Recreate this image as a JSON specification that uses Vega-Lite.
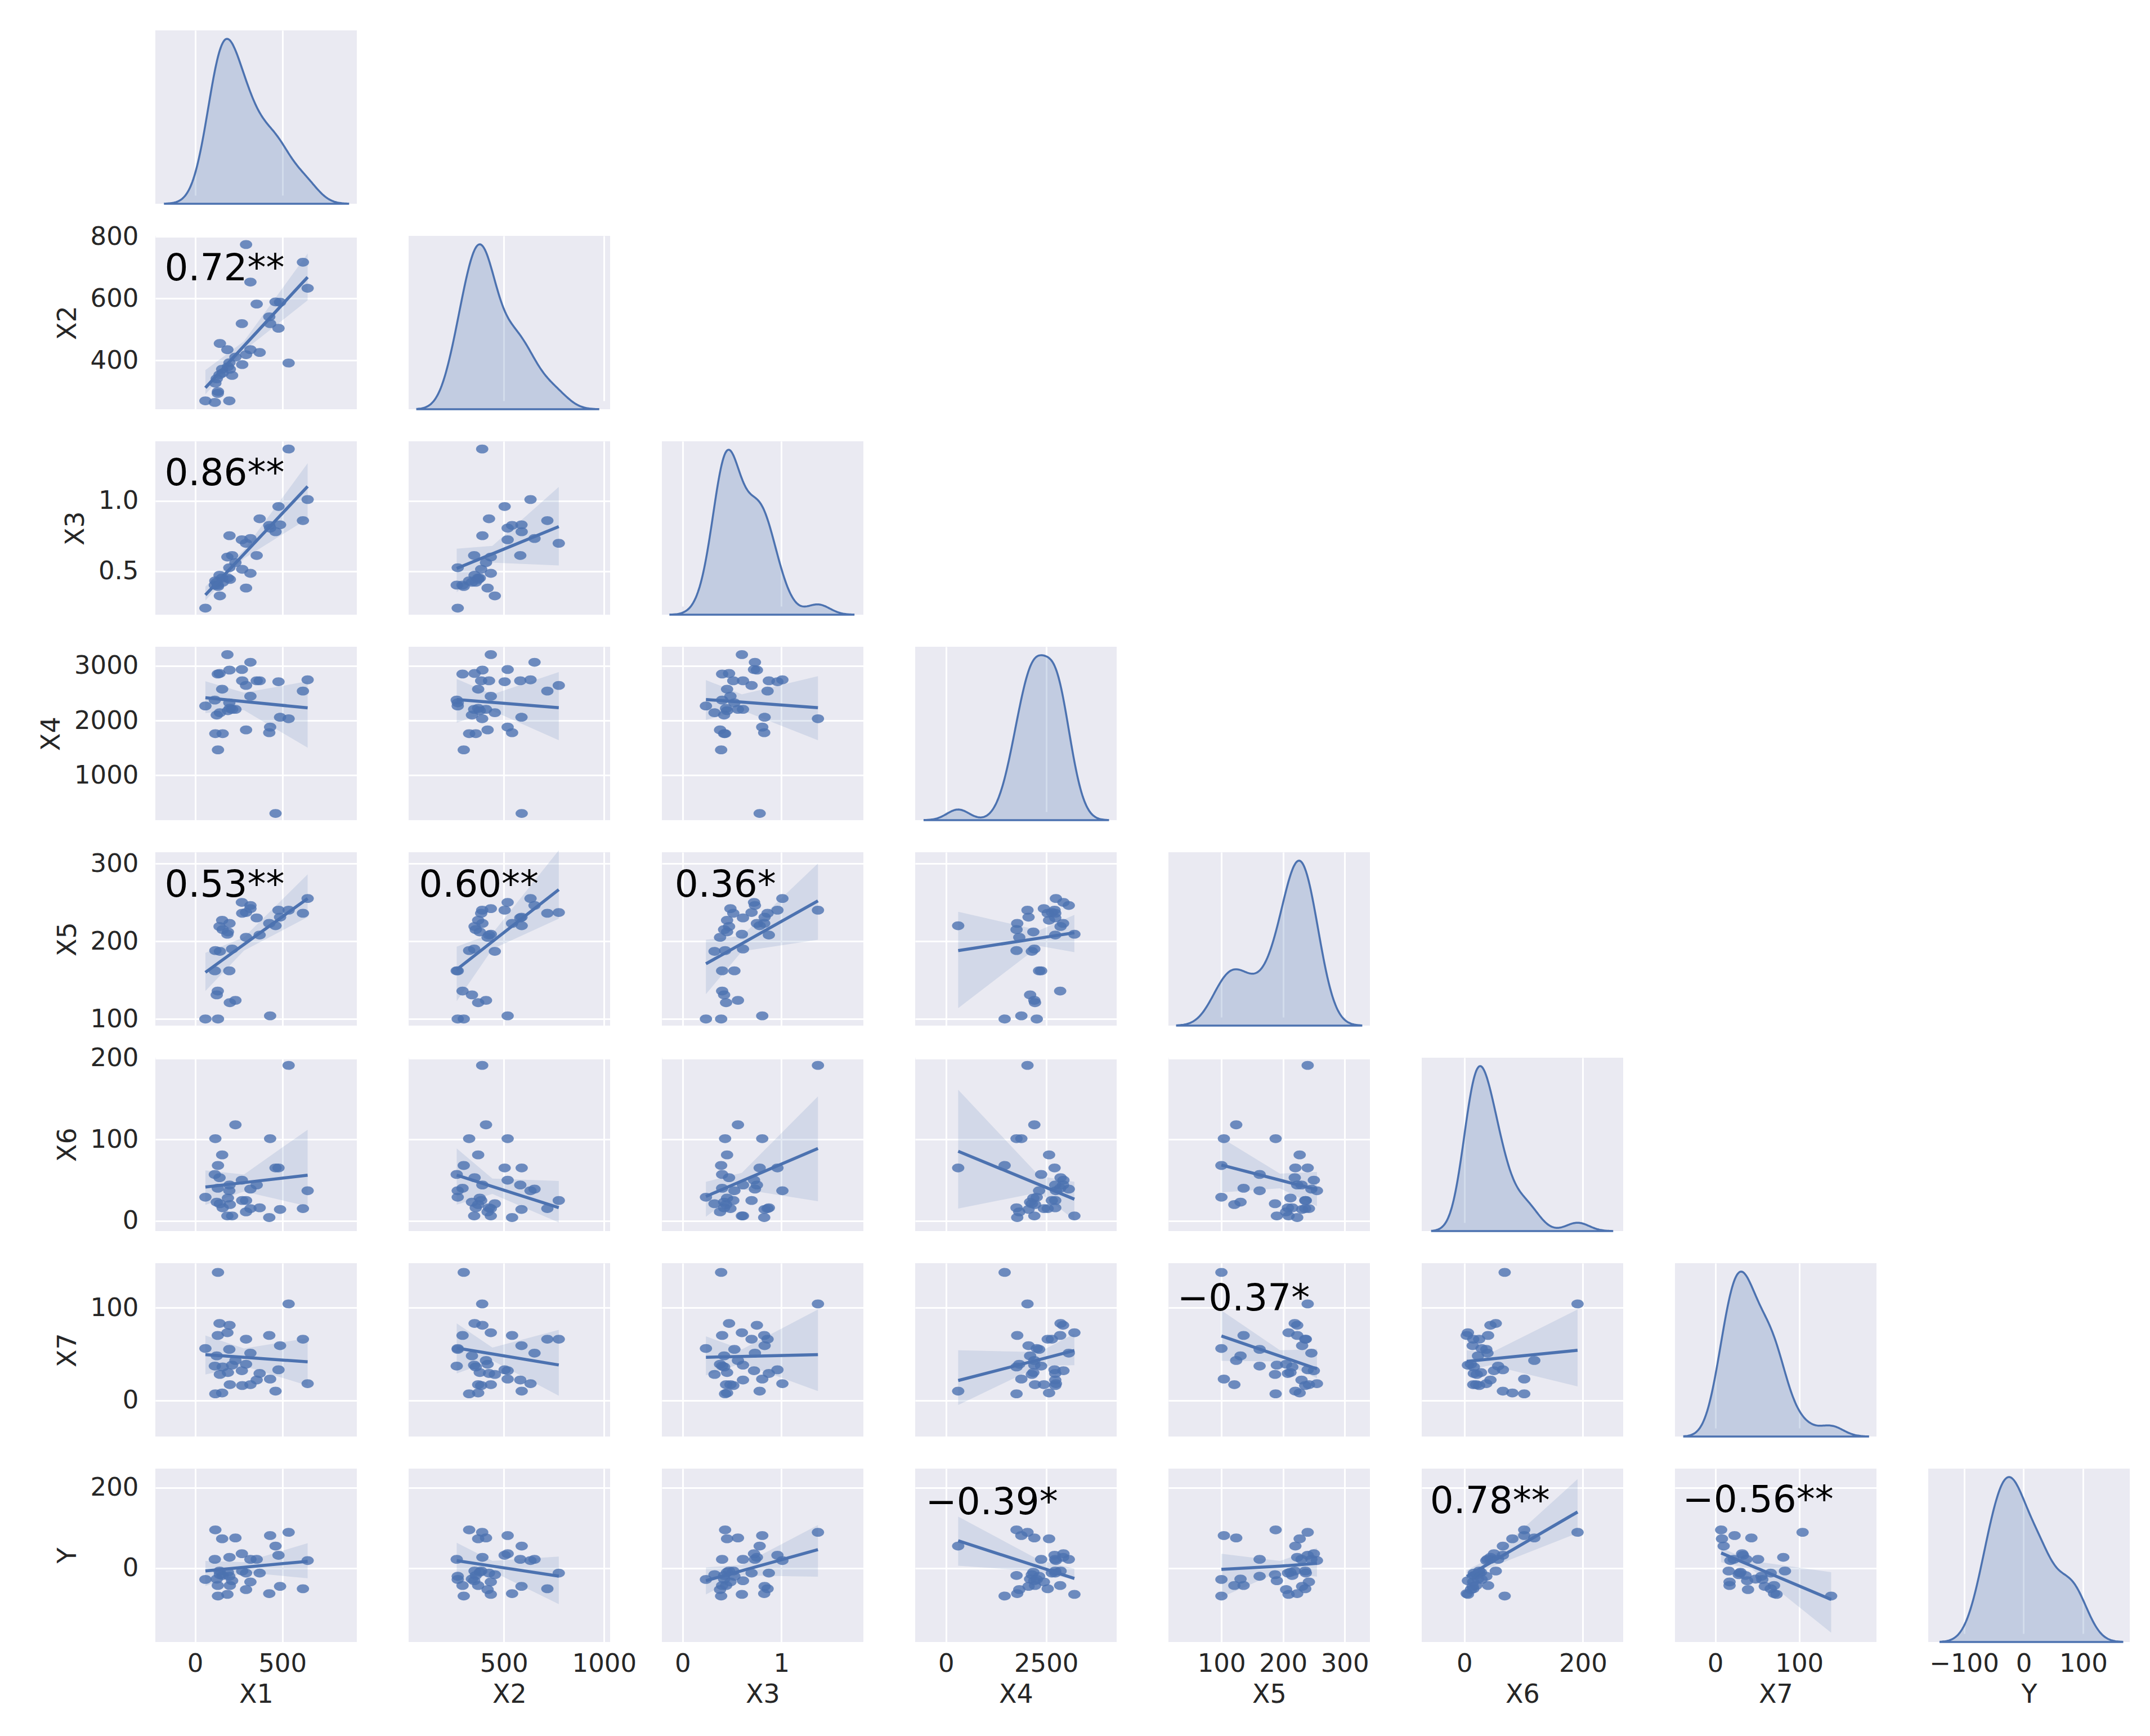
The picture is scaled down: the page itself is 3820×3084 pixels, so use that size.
{
"$schema":"https://vega.github.io/schema/vega-lite/v6.json",
"background":"white",
"padding":{"left":68,"top":54,"right":10,"bottom":10},
"spacing":{"row":57,"column":92},
"bounds":"flush",
"columns":8,
"config":{
 "view":{"fill":"#EAEAF2","stroke":null},
 "axis":{"domain":false,"ticks":false,"tickSize":0,"grid":true,"gridColor":"#FFFFFF","gridWidth":3,"labelFont":"DejaVu Sans","labelFontSize":45,"labelColor":"#262626","titleFont":"DejaVu Sans","titleFontSize":46,"titleFontWeight":"normal","titleColor":"#262626","labelFlush":false,"labelOverlap":false},
 "axisX":{"labelPadding":16,"titlePadding":10},
 "axisY":{"labelPadding":30,"titlePadding":16},
 "point":{"filled":true,"shape":"M-1,0A1,0.72,0,1,1,1,0A1,0.72,0,1,1,-1,0Z","size":480,"color":"#4C72B0","opacity":0.8,"strokeWidth":0},
 "line":{"color":"#4C72B0","strokeWidth":5.5,"clip":true},
 "area":{"color":"#4C72B0","opacity":0.15,"clip":true}
},
"datasets":{
 "obs":[
  {"X1":645,"X2":633,"X3":1.01,"X4":2744,"X5":255,"X6":37,"X7":18,"Y":19},
  {"X1":618,"X2":717,"X3":0.86,"X4":2539,"X5":236,"X6":15,"X7":66,"Y":-51},
  {"X1":536,"X2":392,"X3":1.37,"X4":2034,"X5":240,"X6":191,"X7":104,"Y":89},
  {"X1":487,"X2":588,"X3":0.83,"X4":2061,"X5":231,"X6":14,"X7":59,"Y":-45},
  {"X1":478,"X2":504,"X3":0.96,"X4":2710,"X5":240,"X6":65,"X7":33,"Y":32},
  {"X1":461,"X2":589,"X3":0.78,"X4":304,"X5":220,"X6":65,"X7":10,"Y":55},
  {"X1":425,"X2":541,"X3":0.826,"X4":1778,"X5":223,"X6":4,"X7":70,"Y":-63},
  {"X1":430,"X2":519,"X3":0.806,"X4":1881,"X5":104,"X6":101,"X7":23,"Y":81},
  {"X1":370,"X2":426,"X3":0.873,"X4":2727,"X5":208,"X6":16,"X7":29,"Y":-12},
  {"X1":353,"X2":582,"X3":0.611,"X4":2727,"X5":230,"X6":44,"X7":22,"Y":22},
  {"X1":317,"X2":653,"X3":0.732,"X4":3065,"X5":246,"X6":39,"X7":51,"Y":22},
  {"X1":317,"X2":435,"X3":0.484,"X4":2444,"X5":242,"X6":15,"X7":17,"Y":-34},
  {"X1":292,"X2":774,"X3":0.698,"X4":2642,"X5":237,"X6":25,"X7":66,"Y":-12},
  {"X1":292,"X2":419,"X3":0.379,"X4":1829,"X5":205,"X6":11,"X7":39,"Y":-53},
  {"X1":268,"X2":519,"X3":0.723,"X4":2932,"X5":250,"X6":50,"X7":32,"Y":36},
  {"X1":270,"X2":387,"X3":0.513,"X4":2727,"X5":236,"X6":25,"X7":16,"Y":-7},
  {"X1":231,"X2":411,"X3":0.56,"X4":2205,"X5":124,"X6":118,"X7":43,"Y":75},
  {"X1":212,"X2":352,"X3":0.611,"X4":2205,"X5":190,"X6":6,"X7":38,"Y":-31},
  {"X1":197,"X2":393,"X3":0.752,"X4":2922,"X5":223,"X6":44,"X7":81,"Y":27},
  {"X1":196,"X2":270,"X3":0.524,"X4":2324,"X5":162,"X6":37,"X7":55,"Y":-20},
  {"X1":199,"X2":372,"X3":0.44,"X4":2222,"X5":121,"X6":20,"X7":17,"Y":-43},
  {"X1":185,"X2":435,"X3":0.6,"X4":3205,"X5":209,"X6":6,"X7":73,"Y":-65},
  {"X1":188,"X2":380,"X3":0.45,"X4":2180,"X5":212,"X6":28,"X7":30,"Y":-10},
  {"X1":155,"X2":372,"X3":0.45,"X4":2573,"X5":227,"X6":81,"X7":8,"Y":73},
  {"X1":158,"X2":360,"X3":0.42,"X4":1761,"X5":215,"X6":16,"X7":36,"Y":-18},
  {"X1":142,"X2":455,"X3":0.323,"X4":2143,"X5":187,"X6":21,"X7":28,"Y":-16},
  {"X1":140,"X2":354,"X3":0.47,"X4":2860,"X5":219,"X6":53,"X7":83,"Y":-7},
  {"X1":131,"X2":300,"X3":0.39,"X4":1464,"X5":100,"X6":68,"X7":138,"Y":-69},
  {"X1":130,"X2":294,"X3":0.4,"X4":2850,"X5":136,"X6":40,"X7":70,"Y":-43},
  {"X1":116,"X2":327,"X3":0.43,"X4":1761,"X5":188,"X6":101,"X7":7,"Y":95},
  {"X1":113,"X2":265,"X3":0.4,"X4":2375,"X5":162,"X6":57,"X7":37,"Y":22},
  {"X1":124,"X2":341,"X3":0.42,"X4":2100,"X5":131,"X6":23,"X7":48,"Y":-27},
  {"X1":59,"X2":270,"X3":0.236,"X4":2266,"X5":100,"X6":29,"X7":56,"Y":-28}
 ],
 "fit":[
  {"p":"X1_X2","x":59,"lo":291,"m":312,"hi":369},{"p":"X1_X2","x":280,"lo":432,"m":447,"hi":462},{"p":"X1_X2","x":645,"lo":594,"m":669,"hi":745},
  {"p":"X1_X3","x":59,"lo":0.29,"m":0.33,"hi":0.39},{"p":"X1_X3","x":280,"lo":0.59,"m":0.621,"hi":0.65},{"p":"X1_X3","x":645,"lo":0.873,"m":1.103,"hi":1.268},
  {"p":"X1_X4","x":59,"lo":2136,"m":2418,"hi":2717},{"p":"X1_X4","x":280,"lo":2190,"m":2348,"hi":2510},{"p":"X1_X4","x":645,"lo":1505,"m":2232,"hi":2717},
  {"p":"X1_X5","x":59,"lo":136,"m":160,"hi":185},{"p":"X1_X5","x":280,"lo":188,"m":196,"hi":205},{"p":"X1_X5","x":645,"lo":231,"m":255,"hi":286},
  {"p":"X1_X6","x":59,"lo":19.5,"m":41.5,"hi":62},{"p":"X1_X6","x":280,"lo":36,"m":47,"hi":57},{"p":"X1_X6","x":645,"lo":18,"m":56,"hi":112},
  {"p":"X1_X7","x":59,"lo":28,"m":49.3,"hi":70},{"p":"X1_X7","x":280,"lo":37,"m":46.4,"hi":56},{"p":"X1_X7","x":645,"lo":16,"m":41.6,"hi":67},
  {"p":"X1_Y","x":59,"lo":-44,"m":-6.7,"hi":18},{"p":"X1_Y","x":280,"lo":-10,"m":2.3,"hi":15},{"p":"X1_Y","x":645,"lo":-25,"m":17.1,"hi":62},
  {"p":"X2_X3","x":265,"lo":0.35,"m":0.519,"hi":0.66},{"p":"X2_X3","x":443,"lo":0.56,"m":0.623,"hi":0.68},{"p":"X2_X3","x":774,"lo":0.54,"m":0.817,"hi":1.1},
  {"p":"X2_X4","x":265,"lo":1963,"m":2385,"hi":2760},{"p":"X2_X4","x":443,"lo":2180,"m":2333,"hi":2480},{"p":"X2_X4","x":774,"lo":1640,"m":2235,"hi":2885},
  {"p":"X2_X5","x":265,"lo":123,"m":163.6,"hi":193},{"p":"X2_X5","x":443,"lo":190,"m":199.6,"hi":210},{"p":"X2_X5","x":774,"lo":229,"m":266.4,"hi":317},
  {"p":"X2_X6","x":265,"lo":20,"m":56.2,"hi":89},{"p":"X2_X6","x":443,"lo":33,"m":42.2,"hi":52},{"p":"X2_X6","x":774,"lo":-2,"m":16.2,"hi":49},
  {"p":"X2_X7","x":265,"lo":29,"m":56.5,"hi":83},{"p":"X2_X7","x":443,"lo":43,"m":50.1,"hi":57},{"p":"X2_X7","x":774,"lo":5,"m":38.2,"hi":76},
  {"p":"X2_Y","x":265,"lo":-38,"m":18.7,"hi":63},{"p":"X2_Y","x":443,"lo":-8,"m":5.3,"hi":18},{"p":"X2_Y","x":774,"lo":-89,"m":-19.6,"hi":29},
  {"p":"X3_X4","x":0.236,"lo":2010,"m":2385,"hi":2740},{"p":"X3_X4","x":0.6,"lo":2190,"m":2337,"hi":2480},{"p":"X3_X4","x":1.37,"lo":1640,"m":2235,"hi":2810},
  {"p":"X3_X5","x":0.236,"lo":132,"m":171,"hi":202},{"p":"X3_X5","x":0.6,"lo":187,"m":197,"hi":207},{"p":"X3_X5","x":1.37,"lo":202,"m":252,"hi":300},
  {"p":"X3_X6","x":0.236,"lo":5,"m":30,"hi":48},{"p":"X3_X6","x":0.6,"lo":39,"m":49,"hi":59},{"p":"X3_X6","x":1.37,"lo":24,"m":89,"hi":153},
  {"p":"X3_X7","x":0.236,"lo":27,"m":46.5,"hi":69},{"p":"X3_X7","x":0.6,"lo":40,"m":47.4,"hi":55},{"p":"X3_X7","x":1.37,"lo":10,"m":49.4,"hi":98},
  {"p":"X3_Y","x":0.236,"lo":-65,"m":-31,"hi":2},{"p":"X3_Y","x":0.6,"lo":-18,"m":-6.2,"hi":8},{"p":"X3_Y","x":1.37,"lo":-21,"m":46,"hi":107},
  {"p":"X4_X5","x":304,"lo":114,"m":188,"hi":238},{"p":"X4_X5","x":2330,"lo":194,"m":204,"hi":214},{"p":"X4_X5","x":3205,"lo":186,"m":211,"hi":234},
  {"p":"X4_X6","x":304,"lo":15,"m":85.5,"hi":161},{"p":"X4_X6","x":2330,"lo":35,"m":44.4,"hi":55},{"p":"X4_X6","x":3205,"lo":1,"m":26.6,"hi":48},
  {"p":"X4_X7","x":304,"lo":-5,"m":21.4,"hi":54},{"p":"X4_X7","x":2330,"lo":37,"m":44,"hi":52},{"p":"X4_X7","x":3205,"lo":38,"m":53.8,"hi":72},
  {"p":"X4_Y","x":304,"lo":6,"m":68,"hi":128},{"p":"X4_Y","x":2330,"lo":-8,"m":2.7,"hi":20},{"p":"X4_Y","x":3205,"lo":-29,"m":-25.5,"hi":-1},
  {"p":"X5_X6","x":100,"lo":35,"m":68.6,"hi":102},{"p":"X5_X6","x":195,"lo":40,"m":50,"hi":58},{"p":"X5_X6","x":255,"lo":18,"m":38.3,"hi":60},
  {"p":"X5_X7","x":100,"lo":42.6,"m":69.4,"hi":97},{"p":"X5_X7","x":195,"lo":42,"m":47.7,"hi":54},{"p":"X5_X7","x":255,"lo":24,"m":34,"hi":55.5},
  {"p":"X5_Y","x":100,"lo":-72,"m":-3,"hi":36},{"p":"X5_Y","x":195,"lo":-8,"m":5,"hi":18},{"p":"X5_Y","x":255,"lo":-21,"m":12,"hi":50},
  {"p":"X6_X7","x":4,"lo":32,"m":42,"hi":54},{"p":"X6_X7","x":44,"lo":38,"m":44.6,"hi":51},{"p":"X6_X7","x":191,"lo":15,"m":54,"hi":98},
  {"p":"X6_Y","x":4,"lo":-40,"m":-20.6,"hi":-5},{"p":"X6_Y","x":44,"lo":2,"m":13.7,"hi":25},{"p":"X6_Y","x":191,"lo":87,"m":139.5,"hi":221},
  {"p":"X7_Y","x":7,"lo":15,"m":37.8,"hi":50},{"p":"X7_Y","x":44,"lo":-3,"m":5.2,"hi":18},{"p":"X7_Y","x":138,"lo":-160,"m":-77.5,"hi":-10}
 ]
},
"concat":[
 {"width":358,"height":308,"data":{"name":"obs"},"transform":[{"density":"X1","bandwidth":77.4,"extent":[-173,877],"steps":200,"as":["v","d"]}],"mark":{"type":"area","color":"#4C72B0","opacity":1,"fillOpacity":0.25,"stroke":"#4C72B0","strokeWidth":3.5,"clip":false},"encoding":{"x":{"field":"v","type":"quantitative","scale":{"domain":[-228,927],"nice":false,"zero":false},"axis":{"title":null,"labels":false,"values":[0,500],"minExtent":0,"maxExtent":0}},"y":{"field":"d","type":"quantitative","scale":{"zero":true,"nice":false,"range":[308,15]},"axis":null}}},
 {"width":358,"height":308,"data":{"values":[]},"mark":"point","view":{"fill":null,"stroke":null}},
 {"width":358,"height":308,"data":{"values":[]},"mark":"point","view":{"fill":null,"stroke":null}},
 {"width":358,"height":308,"data":{"values":[]},"mark":"point","view":{"fill":null,"stroke":null}},
 {"width":358,"height":308,"data":{"values":[]},"mark":"point","view":{"fill":null,"stroke":null}},
 {"width":358,"height":308,"data":{"values":[]},"mark":"point","view":{"fill":null,"stroke":null}},
 {"width":358,"height":308,"data":{"values":[]},"mark":"point","view":{"fill":null,"stroke":null}},
 {"width":358,"height":308,"data":{"values":[]},"mark":"point","view":{"fill":null,"stroke":null}},

 {"width":358,"height":308,"layer":[
  {"data":{"name":"obs"},"mark":"point","encoding":{"x":{"field":"X1","type":"quantitative","scale":{"domain":[-228,927],"nice":false,"zero":false},"axis":{"title":null,"labels":false,"values":[0,500],"minExtent":0,"maxExtent":0}},"y":{"field":"X2","type":"quantitative","scale":{"domain":[243,802],"nice":false,"zero":false},"axis":{"title":"X2","values":[400,600,800],"format":"d"}}}},
  {"data":{"name":"fit"},"transform":[{"filter":"datum.p==='X1_X2'"}],"mark":"area","encoding":{"x":{"field":"x","type":"quantitative"},"y":{"field":"lo","type":"quantitative"},"y2":{"field":"hi"}}},
  {"data":{"name":"fit"},"transform":[{"filter":"datum.p==='X1_X2'"}],"mark":"line","encoding":{"x":{"field":"x","type":"quantitative"},"y":{"field":"m","type":"quantitative"}}},
  {"data":{"values":[{"t":"0.72**"}]},"mark":{"type":"text","align":"left","baseline":"alphabetic","font":"DejaVu Sans","fontSize":66,"color":"#000000"},"encoding":{"x":{"datum":-175},"y":{"datum":658},"text":{"field":"t"}}}
 ]},
 {"width":358,"height":308,"data":{"name":"obs"},"transform":[{"density":"X2","bandwidth":65.6,"extent":[68,971],"steps":200,"as":["v","d"]}],"mark":{"type":"area","color":"#4C72B0","opacity":1,"fillOpacity":0.25,"stroke":"#4C72B0","strokeWidth":3.5,"clip":false},"encoding":{"x":{"field":"v","type":"quantitative","scale":{"domain":[25,1030],"nice":false,"zero":false},"axis":{"title":null,"labels":false,"values":[500,1000],"minExtent":0,"maxExtent":0}},"y":{"field":"d","type":"quantitative","scale":{"zero":true,"nice":false,"range":[308,15]},"axis":null}}},
 {"width":358,"height":308,"data":{"values":[]},"mark":"point","view":{"fill":null,"stroke":null}},
 {"width":358,"height":308,"data":{"values":[]},"mark":"point","view":{"fill":null,"stroke":null}},
 {"width":358,"height":308,"data":{"values":[]},"mark":"point","view":{"fill":null,"stroke":null}},
 {"width":358,"height":308,"data":{"values":[]},"mark":"point","view":{"fill":null,"stroke":null}},
 {"width":358,"height":308,"data":{"values":[]},"mark":"point","view":{"fill":null,"stroke":null}},
 {"width":358,"height":308,"data":{"values":[]},"mark":"point","view":{"fill":null,"stroke":null}},

 {"width":358,"height":308,"layer":[
  {"data":{"name":"obs"},"mark":"point","encoding":{"x":{"field":"X1","type":"quantitative","scale":{"domain":[-228,927],"nice":false,"zero":false},"axis":{"title":null,"labels":false,"values":[0,500],"minExtent":0,"maxExtent":0}},"y":{"field":"X3","type":"quantitative","scale":{"domain":[0.189,1.425],"nice":false,"zero":false},"axis":{"title":"X3","values":[0.5,1.0],"format":".1f"}}}},
  {"data":{"name":"fit"},"transform":[{"filter":"datum.p==='X1_X3'"}],"mark":"area","encoding":{"x":{"field":"x","type":"quantitative"},"y":{"field":"lo","type":"quantitative"},"y2":{"field":"hi"}}},
  {"data":{"name":"fit"},"transform":[{"filter":"datum.p==='X1_X3'"}],"mark":"line","encoding":{"x":{"field":"x","type":"quantitative"},"y":{"field":"m","type":"quantitative"}}},
  {"data":{"values":[{"t":"0.86**"}]},"mark":{"type":"text","align":"left","baseline":"alphabetic","font":"DejaVu Sans","fontSize":66,"color":"#000000"},"encoding":{"x":{"datum":-175},"y":{"datum":1.11},"text":{"field":"t"}}}
 ]},
 {"width":358,"height":308,"layer":[
  {"data":{"name":"obs"},"mark":"point","encoding":{"x":{"field":"X2","type":"quantitative","scale":{"domain":[25,1030],"nice":false,"zero":false},"axis":{"title":null,"labels":false,"values":[500,1000],"minExtent":0,"maxExtent":0}},"y":{"field":"X3","type":"quantitative","scale":{"domain":[0.189,1.425],"nice":false,"zero":false},"axis":{"title":null,"labels":false,"values":[0.5,1.0],"minExtent":0,"maxExtent":0}}}},
  {"data":{"name":"fit"},"transform":[{"filter":"datum.p==='X2_X3'"}],"mark":"area","encoding":{"x":{"field":"x","type":"quantitative"},"y":{"field":"lo","type":"quantitative"},"y2":{"field":"hi"}}},
  {"data":{"name":"fit"},"transform":[{"filter":"datum.p==='X2_X3'"}],"mark":"line","encoding":{"x":{"field":"x","type":"quantitative"},"y":{"field":"m","type":"quantitative"}}}
 ]},
 {"width":358,"height":308,"data":{"name":"obs"},"transform":[{"density":"X3","bandwidth":0.12,"extent":[-0.124,1.73],"steps":200,"as":["v","d"]}],"mark":{"type":"area","color":"#4C72B0","opacity":1,"fillOpacity":0.25,"stroke":"#4C72B0","strokeWidth":3.5,"clip":false},"encoding":{"x":{"field":"v","type":"quantitative","scale":{"domain":[-0.21,1.83],"nice":false,"zero":false},"axis":{"title":null,"labels":false,"values":[0,1],"minExtent":0,"maxExtent":0}},"y":{"field":"d","type":"quantitative","scale":{"zero":true,"nice":false,"range":[308,15]},"axis":null}}},
 {"width":358,"height":308,"data":{"values":[]},"mark":"point","view":{"fill":null,"stroke":null}},
 {"width":358,"height":308,"data":{"values":[]},"mark":"point","view":{"fill":null,"stroke":null}},
 {"width":358,"height":308,"data":{"values":[]},"mark":"point","view":{"fill":null,"stroke":null}},
 {"width":358,"height":308,"data":{"values":[]},"mark":"point","view":{"fill":null,"stroke":null}},
 {"width":358,"height":308,"data":{"values":[]},"mark":"point","view":{"fill":null,"stroke":null}},

 {"width":358,"height":308,"layer":[
  {"data":{"name":"obs"},"mark":"point","encoding":{"x":{"field":"X1","type":"quantitative","scale":{"domain":[-228,927],"nice":false,"zero":false},"axis":{"title":null,"labels":false,"values":[0,500],"minExtent":0,"maxExtent":0}},"y":{"field":"X4","type":"quantitative","scale":{"domain":[181,3348],"nice":false,"zero":false},"axis":{"title":"X4","values":[1000,2000,3000],"format":"d"}}}},
  {"data":{"name":"fit"},"transform":[{"filter":"datum.p==='X1_X4'"}],"mark":"area","encoding":{"x":{"field":"x","type":"quantitative"},"y":{"field":"lo","type":"quantitative"},"y2":{"field":"hi"}}},
  {"data":{"name":"fit"},"transform":[{"filter":"datum.p==='X1_X4'"}],"mark":"line","encoding":{"x":{"field":"x","type":"quantitative"},"y":{"field":"m","type":"quantitative"}}}
 ]},
 {"width":358,"height":308,"layer":[
  {"data":{"name":"obs"},"mark":"point","encoding":{"x":{"field":"X2","type":"quantitative","scale":{"domain":[25,1030],"nice":false,"zero":false},"axis":{"title":null,"labels":false,"values":[500,1000],"minExtent":0,"maxExtent":0}},"y":{"field":"X4","type":"quantitative","scale":{"domain":[181,3348],"nice":false,"zero":false},"axis":{"title":null,"labels":false,"values":[1000,2000,3000],"minExtent":0,"maxExtent":0}}}},
  {"data":{"name":"fit"},"transform":[{"filter":"datum.p==='X2_X4'"}],"mark":"area","encoding":{"x":{"field":"x","type":"quantitative"},"y":{"field":"lo","type":"quantitative"},"y2":{"field":"hi"}}},
  {"data":{"name":"fit"},"transform":[{"filter":"datum.p==='X2_X4'"}],"mark":"line","encoding":{"x":{"field":"x","type":"quantitative"},"y":{"field":"m","type":"quantitative"}}}
 ]},
 {"width":358,"height":308,"layer":[
  {"data":{"name":"obs"},"mark":"point","encoding":{"x":{"field":"X3","type":"quantitative","scale":{"domain":[-0.21,1.83],"nice":false,"zero":false},"axis":{"title":null,"labels":false,"values":[0,1],"minExtent":0,"maxExtent":0}},"y":{"field":"X4","type":"quantitative","scale":{"domain":[181,3348],"nice":false,"zero":false},"axis":{"title":null,"labels":false,"values":[1000,2000,3000],"minExtent":0,"maxExtent":0}}}},
  {"data":{"name":"fit"},"transform":[{"filter":"datum.p==='X3_X4'"}],"mark":"area","encoding":{"x":{"field":"x","type":"quantitative"},"y":{"field":"lo","type":"quantitative"},"y2":{"field":"hi"}}},
  {"data":{"name":"fit"},"transform":[{"filter":"datum.p==='X3_X4'"}],"mark":"line","encoding":{"x":{"field":"x","type":"quantitative"},"y":{"field":"m","type":"quantitative"}}}
 ]},
 {"width":358,"height":308,"data":{"name":"obs"},"transform":[{"density":"X4","bandwidth":280,"extent":[-536,4045],"steps":200,"as":["v","d"]}],"mark":{"type":"area","color":"#4C72B0","opacity":1,"fillOpacity":0.25,"stroke":"#4C72B0","strokeWidth":3.5,"clip":false},"encoding":{"x":{"field":"v","type":"quantitative","scale":{"domain":[-770,4260],"nice":false,"zero":false},"axis":{"title":null,"labels":false,"values":[0,2500],"minExtent":0,"maxExtent":0}},"y":{"field":"d","type":"quantitative","scale":{"zero":true,"nice":false,"range":[308,15]},"axis":null}}},
 {"width":358,"height":308,"data":{"values":[]},"mark":"point","view":{"fill":null,"stroke":null}},
 {"width":358,"height":308,"data":{"values":[]},"mark":"point","view":{"fill":null,"stroke":null}},
 {"width":358,"height":308,"data":{"values":[]},"mark":"point","view":{"fill":null,"stroke":null}},
 {"width":358,"height":308,"data":{"values":[]},"mark":"point","view":{"fill":null,"stroke":null}},

 {"width":358,"height":308,"layer":[
  {"data":{"name":"obs"},"mark":"point","encoding":{"x":{"field":"X1","type":"quantitative","scale":{"domain":[-228,927],"nice":false,"zero":false},"axis":{"title":null,"labels":false,"values":[0,500],"minExtent":0,"maxExtent":0}},"y":{"field":"X5","type":"quantitative","scale":{"domain":[91.5,314.5],"nice":false,"zero":false},"axis":{"title":"X5","values":[100,200,300],"format":"d"}}}},
  {"data":{"name":"fit"},"transform":[{"filter":"datum.p==='X1_X5'"}],"mark":"area","encoding":{"x":{"field":"x","type":"quantitative"},"y":{"field":"lo","type":"quantitative"},"y2":{"field":"hi"}}},
  {"data":{"name":"fit"},"transform":[{"filter":"datum.p==='X1_X5'"}],"mark":"line","encoding":{"x":{"field":"x","type":"quantitative"},"y":{"field":"m","type":"quantitative"}}},
  {"data":{"values":[{"t":"0.53**"}]},"mark":{"type":"text","align":"left","baseline":"alphabetic","font":"DejaVu Sans","fontSize":66,"color":"#000000"},"encoding":{"x":{"datum":-175},"y":{"datum":257},"text":{"field":"t"}}}
 ]},
 {"width":358,"height":308,"layer":[
  {"data":{"name":"obs"},"mark":"point","encoding":{"x":{"field":"X2","type":"quantitative","scale":{"domain":[25,1030],"nice":false,"zero":false},"axis":{"title":null,"labels":false,"values":[500,1000],"minExtent":0,"maxExtent":0}},"y":{"field":"X5","type":"quantitative","scale":{"domain":[91.5,314.5],"nice":false,"zero":false},"axis":{"title":null,"labels":false,"values":[100,200,300],"minExtent":0,"maxExtent":0}}}},
  {"data":{"name":"fit"},"transform":[{"filter":"datum.p==='X2_X5'"}],"mark":"area","encoding":{"x":{"field":"x","type":"quantitative"},"y":{"field":"lo","type":"quantitative"},"y2":{"field":"hi"}}},
  {"data":{"name":"fit"},"transform":[{"filter":"datum.p==='X2_X5'"}],"mark":"line","encoding":{"x":{"field":"x","type":"quantitative"},"y":{"field":"m","type":"quantitative"}}},
  {"data":{"values":[{"t":"0.60**"}]},"mark":{"type":"text","align":"left","baseline":"alphabetic","font":"DejaVu Sans","fontSize":66,"color":"#000000"},"encoding":{"x":{"datum":76},"y":{"datum":257},"text":{"field":"t"}}}
 ]},
 {"width":358,"height":308,"layer":[
  {"data":{"name":"obs"},"mark":"point","encoding":{"x":{"field":"X3","type":"quantitative","scale":{"domain":[-0.21,1.83],"nice":false,"zero":false},"axis":{"title":null,"labels":false,"values":[0,1],"minExtent":0,"maxExtent":0}},"y":{"field":"X5","type":"quantitative","scale":{"domain":[91.5,314.5],"nice":false,"zero":false},"axis":{"title":null,"labels":false,"values":[100,200,300],"minExtent":0,"maxExtent":0}}}},
  {"data":{"name":"fit"},"transform":[{"filter":"datum.p==='X3_X5'"}],"mark":"area","encoding":{"x":{"field":"x","type":"quantitative"},"y":{"field":"lo","type":"quantitative"},"y2":{"field":"hi"}}},
  {"data":{"name":"fit"},"transform":[{"filter":"datum.p==='X3_X5'"}],"mark":"line","encoding":{"x":{"field":"x","type":"quantitative"},"y":{"field":"m","type":"quantitative"}}},
  {"data":{"values":[{"t":"0.36*"}]},"mark":{"type":"text","align":"left","baseline":"alphabetic","font":"DejaVu Sans","fontSize":66,"color":"#000000"},"encoding":{"x":{"datum":-0.08},"y":{"datum":257},"text":{"field":"t"}}}
 ]},
 {"width":358,"height":308,"layer":[
  {"data":{"name":"obs"},"mark":"point","encoding":{"x":{"field":"X4","type":"quantitative","scale":{"domain":[-770,4260],"nice":false,"zero":false},"axis":{"title":null,"labels":false,"values":[0,2500],"minExtent":0,"maxExtent":0}},"y":{"field":"X5","type":"quantitative","scale":{"domain":[91.5,314.5],"nice":false,"zero":false},"axis":{"title":null,"labels":false,"values":[100,200,300],"minExtent":0,"maxExtent":0}}}},
  {"data":{"name":"fit"},"transform":[{"filter":"datum.p==='X4_X5'"}],"mark":"area","encoding":{"x":{"field":"x","type":"quantitative"},"y":{"field":"lo","type":"quantitative"},"y2":{"field":"hi"}}},
  {"data":{"name":"fit"},"transform":[{"filter":"datum.p==='X4_X5'"}],"mark":"line","encoding":{"x":{"field":"x","type":"quantitative"},"y":{"field":"m","type":"quantitative"}}}
 ]},
 {"width":358,"height":308,"data":{"name":"obs"},"transform":[{"density":"X5","bandwidth":24,"extent":[28,327],"steps":200,"as":["v","d"]}],"mark":{"type":"area","color":"#4C72B0","opacity":1,"fillOpacity":0.25,"stroke":"#4C72B0","strokeWidth":3.5,"clip":false},"encoding":{"x":{"field":"v","type":"quantitative","scale":{"domain":[14,341],"nice":false,"zero":false},"axis":{"title":null,"labels":false,"values":[100,200,300],"minExtent":0,"maxExtent":0}},"y":{"field":"d","type":"quantitative","scale":{"zero":true,"nice":false,"range":[308,15]},"axis":null}}},
 {"width":358,"height":308,"data":{"values":[]},"mark":"point","view":{"fill":null,"stroke":null}},
 {"width":358,"height":308,"data":{"values":[]},"mark":"point","view":{"fill":null,"stroke":null}},
 {"width":358,"height":308,"data":{"values":[]},"mark":"point","view":{"fill":null,"stroke":null}},

 {"width":358,"height":308,"layer":[
  {"data":{"name":"obs"},"mark":"point","encoding":{"x":{"field":"X1","type":"quantitative","scale":{"domain":[-228,927],"nice":false,"zero":false},"axis":{"title":null,"labels":false,"values":[0,500],"minExtent":0,"maxExtent":0}},"y":{"field":"X6","type":"quantitative","scale":{"domain":[-12.6,200.5],"nice":false,"zero":false},"axis":{"title":"X6","values":[0,100,200],"format":"d"}}}},
  {"data":{"name":"fit"},"transform":[{"filter":"datum.p==='X1_X6'"}],"mark":"area","encoding":{"x":{"field":"x","type":"quantitative"},"y":{"field":"lo","type":"quantitative"},"y2":{"field":"hi"}}},
  {"data":{"name":"fit"},"transform":[{"filter":"datum.p==='X1_X6'"}],"mark":"line","encoding":{"x":{"field":"x","type":"quantitative"},"y":{"field":"m","type":"quantitative"}}}
 ]},
 {"width":358,"height":308,"layer":[
  {"data":{"name":"obs"},"mark":"point","encoding":{"x":{"field":"X2","type":"quantitative","scale":{"domain":[25,1030],"nice":false,"zero":false},"axis":{"title":null,"labels":false,"values":[500,1000],"minExtent":0,"maxExtent":0}},"y":{"field":"X6","type":"quantitative","scale":{"domain":[-12.6,200.5],"nice":false,"zero":false},"axis":{"title":null,"labels":false,"values":[0,100,200],"minExtent":0,"maxExtent":0}}}},
  {"data":{"name":"fit"},"transform":[{"filter":"datum.p==='X2_X6'"}],"mark":"area","encoding":{"x":{"field":"x","type":"quantitative"},"y":{"field":"lo","type":"quantitative"},"y2":{"field":"hi"}}},
  {"data":{"name":"fit"},"transform":[{"filter":"datum.p==='X2_X6'"}],"mark":"line","encoding":{"x":{"field":"x","type":"quantitative"},"y":{"field":"m","type":"quantitative"}}}
 ]},
 {"width":358,"height":308,"layer":[
  {"data":{"name":"obs"},"mark":"point","encoding":{"x":{"field":"X3","type":"quantitative","scale":{"domain":[-0.21,1.83],"nice":false,"zero":false},"axis":{"title":null,"labels":false,"values":[0,1],"minExtent":0,"maxExtent":0}},"y":{"field":"X6","type":"quantitative","scale":{"domain":[-12.6,200.5],"nice":false,"zero":false},"axis":{"title":null,"labels":false,"values":[0,100,200],"minExtent":0,"maxExtent":0}}}},
  {"data":{"name":"fit"},"transform":[{"filter":"datum.p==='X3_X6'"}],"mark":"area","encoding":{"x":{"field":"x","type":"quantitative"},"y":{"field":"lo","type":"quantitative"},"y2":{"field":"hi"}}},
  {"data":{"name":"fit"},"transform":[{"filter":"datum.p==='X3_X6'"}],"mark":"line","encoding":{"x":{"field":"x","type":"quantitative"},"y":{"field":"m","type":"quantitative"}}}
 ]},
 {"width":358,"height":308,"layer":[
  {"data":{"name":"obs"},"mark":"point","encoding":{"x":{"field":"X4","type":"quantitative","scale":{"domain":[-770,4260],"nice":false,"zero":false},"axis":{"title":null,"labels":false,"values":[0,2500],"minExtent":0,"maxExtent":0}},"y":{"field":"X6","type":"quantitative","scale":{"domain":[-12.6,200.5],"nice":false,"zero":false},"axis":{"title":null,"labels":false,"values":[0,100,200],"minExtent":0,"maxExtent":0}}}},
  {"data":{"name":"fit"},"transform":[{"filter":"datum.p==='X4_X6'"}],"mark":"area","encoding":{"x":{"field":"x","type":"quantitative"},"y":{"field":"lo","type":"quantitative"},"y2":{"field":"hi"}}},
  {"data":{"name":"fit"},"transform":[{"filter":"datum.p==='X4_X6'"}],"mark":"line","encoding":{"x":{"field":"x","type":"quantitative"},"y":{"field":"m","type":"quantitative"}}}
 ]},
 {"width":358,"height":308,"layer":[
  {"data":{"name":"obs"},"mark":"point","encoding":{"x":{"field":"X5","type":"quantitative","scale":{"domain":[14,341],"nice":false,"zero":false},"axis":{"title":null,"labels":false,"values":[100,200,300],"minExtent":0,"maxExtent":0}},"y":{"field":"X6","type":"quantitative","scale":{"domain":[-12.6,200.5],"nice":false,"zero":false},"axis":{"title":null,"labels":false,"values":[0,100,200],"minExtent":0,"maxExtent":0}}}},
  {"data":{"name":"fit"},"transform":[{"filter":"datum.p==='X5_X6'"}],"mark":"area","encoding":{"x":{"field":"x","type":"quantitative"},"y":{"field":"lo","type":"quantitative"},"y2":{"field":"hi"}}},
  {"data":{"name":"fit"},"transform":[{"filter":"datum.p==='X5_X6'"}],"mark":"line","encoding":{"x":{"field":"x","type":"quantitative"},"y":{"field":"m","type":"quantitative"}}}
 ]},
 {"width":358,"height":308,"data":{"name":"obs"},"transform":[{"density":"X6","bandwidth":19.5,"extent":[-54.5,249.5],"steps":200,"as":["v","d"]}],"mark":{"type":"area","color":"#4C72B0","opacity":1,"fillOpacity":0.25,"stroke":"#4C72B0","strokeWidth":3.5,"clip":false},"encoding":{"x":{"field":"v","type":"quantitative","scale":{"domain":[-72,268],"nice":false,"zero":false},"axis":{"title":null,"labels":false,"values":[0,200],"minExtent":0,"maxExtent":0}},"y":{"field":"d","type":"quantitative","scale":{"zero":true,"nice":false,"range":[308,15]},"axis":null}}},
 {"width":358,"height":308,"data":{"values":[]},"mark":"point","view":{"fill":null,"stroke":null}},
 {"width":358,"height":308,"data":{"values":[]},"mark":"point","view":{"fill":null,"stroke":null}},

 {"width":358,"height":308,"layer":[
  {"data":{"name":"obs"},"mark":"point","encoding":{"x":{"field":"X1","type":"quantitative","scale":{"domain":[-228,927],"nice":false,"zero":false},"axis":{"title":null,"labels":false,"values":[0,500],"minExtent":0,"maxExtent":0}},"y":{"field":"X7","type":"quantitative","scale":{"domain":[-39,148],"nice":false,"zero":false},"axis":{"title":"X7","values":[0,100],"format":"d"}}}},
  {"data":{"name":"fit"},"transform":[{"filter":"datum.p==='X1_X7'"}],"mark":"area","encoding":{"x":{"field":"x","type":"quantitative"},"y":{"field":"lo","type":"quantitative"},"y2":{"field":"hi"}}},
  {"data":{"name":"fit"},"transform":[{"filter":"datum.p==='X1_X7'"}],"mark":"line","encoding":{"x":{"field":"x","type":"quantitative"},"y":{"field":"m","type":"quantitative"}}}
 ]},
 {"width":358,"height":308,"layer":[
  {"data":{"name":"obs"},"mark":"point","encoding":{"x":{"field":"X2","type":"quantitative","scale":{"domain":[25,1030],"nice":false,"zero":false},"axis":{"title":null,"labels":false,"values":[500,1000],"minExtent":0,"maxExtent":0}},"y":{"field":"X7","type":"quantitative","scale":{"domain":[-39,148],"nice":false,"zero":false},"axis":{"title":null,"labels":false,"values":[0,100],"minExtent":0,"maxExtent":0}}}},
  {"data":{"name":"fit"},"transform":[{"filter":"datum.p==='X2_X7'"}],"mark":"area","encoding":{"x":{"field":"x","type":"quantitative"},"y":{"field":"lo","type":"quantitative"},"y2":{"field":"hi"}}},
  {"data":{"name":"fit"},"transform":[{"filter":"datum.p==='X2_X7'"}],"mark":"line","encoding":{"x":{"field":"x","type":"quantitative"},"y":{"field":"m","type":"quantitative"}}}
 ]},
 {"width":358,"height":308,"layer":[
  {"data":{"name":"obs"},"mark":"point","encoding":{"x":{"field":"X3","type":"quantitative","scale":{"domain":[-0.21,1.83],"nice":false,"zero":false},"axis":{"title":null,"labels":false,"values":[0,1],"minExtent":0,"maxExtent":0}},"y":{"field":"X7","type":"quantitative","scale":{"domain":[-39,148],"nice":false,"zero":false},"axis":{"title":null,"labels":false,"values":[0,100],"minExtent":0,"maxExtent":0}}}},
  {"data":{"name":"fit"},"transform":[{"filter":"datum.p==='X3_X7'"}],"mark":"area","encoding":{"x":{"field":"x","type":"quantitative"},"y":{"field":"lo","type":"quantitative"},"y2":{"field":"hi"}}},
  {"data":{"name":"fit"},"transform":[{"filter":"datum.p==='X3_X7'"}],"mark":"line","encoding":{"x":{"field":"x","type":"quantitative"},"y":{"field":"m","type":"quantitative"}}}
 ]},
 {"width":358,"height":308,"layer":[
  {"data":{"name":"obs"},"mark":"point","encoding":{"x":{"field":"X4","type":"quantitative","scale":{"domain":[-770,4260],"nice":false,"zero":false},"axis":{"title":null,"labels":false,"values":[0,2500],"minExtent":0,"maxExtent":0}},"y":{"field":"X7","type":"quantitative","scale":{"domain":[-39,148],"nice":false,"zero":false},"axis":{"title":null,"labels":false,"values":[0,100],"minExtent":0,"maxExtent":0}}}},
  {"data":{"name":"fit"},"transform":[{"filter":"datum.p==='X4_X7'"}],"mark":"area","encoding":{"x":{"field":"x","type":"quantitative"},"y":{"field":"lo","type":"quantitative"},"y2":{"field":"hi"}}},
  {"data":{"name":"fit"},"transform":[{"filter":"datum.p==='X4_X7'"}],"mark":"line","encoding":{"x":{"field":"x","type":"quantitative"},"y":{"field":"m","type":"quantitative"}}}
 ]},
 {"width":358,"height":308,"layer":[
  {"data":{"name":"obs"},"mark":"point","encoding":{"x":{"field":"X5","type":"quantitative","scale":{"domain":[14,341],"nice":false,"zero":false},"axis":{"title":null,"labels":false,"values":[100,200,300],"minExtent":0,"maxExtent":0}},"y":{"field":"X7","type":"quantitative","scale":{"domain":[-39,148],"nice":false,"zero":false},"axis":{"title":null,"labels":false,"values":[0,100],"minExtent":0,"maxExtent":0}}}},
  {"data":{"name":"fit"},"transform":[{"filter":"datum.p==='X5_X7'"}],"mark":"area","encoding":{"x":{"field":"x","type":"quantitative"},"y":{"field":"lo","type":"quantitative"},"y2":{"field":"hi"}}},
  {"data":{"name":"fit"},"transform":[{"filter":"datum.p==='X5_X7'"}],"mark":"line","encoding":{"x":{"field":"x","type":"quantitative"},"y":{"field":"m","type":"quantitative"}}},
  {"data":{"values":[{"t":"−0.37*"}]},"mark":{"type":"text","align":"left","baseline":"alphabetic","font":"DejaVu Sans","fontSize":66,"color":"#000000"},"encoding":{"x":{"datum":28.5},"y":{"datum":97},"text":{"field":"t"}}}
 ]},
 {"width":358,"height":308,"layer":[
  {"data":{"name":"obs"},"mark":"point","encoding":{"x":{"field":"X6","type":"quantitative","scale":{"domain":[-72,268],"nice":false,"zero":false},"axis":{"title":null,"labels":false,"values":[0,200],"minExtent":0,"maxExtent":0}},"y":{"field":"X7","type":"quantitative","scale":{"domain":[-39,148],"nice":false,"zero":false},"axis":{"title":null,"labels":false,"values":[0,100],"minExtent":0,"maxExtent":0}}}},
  {"data":{"name":"fit"},"transform":[{"filter":"datum.p==='X6_X7'"}],"mark":"area","encoding":{"x":{"field":"x","type":"quantitative"},"y":{"field":"lo","type":"quantitative"},"y2":{"field":"hi"}}},
  {"data":{"name":"fit"},"transform":[{"filter":"datum.p==='X6_X7'"}],"mark":"line","encoding":{"x":{"field":"x","type":"quantitative"},"y":{"field":"m","type":"quantitative"}}}
 ]},
 {"width":358,"height":308,"data":{"name":"obs"},"transform":[{"density":"X7","bandwidth":14.6,"extent":[-37,182],"steps":200,"as":["v","d"]}],"mark":{"type":"area","color":"#4C72B0","opacity":1,"fillOpacity":0.25,"stroke":"#4C72B0","strokeWidth":3.5,"clip":false},"encoding":{"x":{"field":"v","type":"quantitative","scale":{"domain":[-48,192],"nice":false,"zero":false},"axis":{"title":null,"labels":false,"values":[0,100],"minExtent":0,"maxExtent":0}},"y":{"field":"d","type":"quantitative","scale":{"zero":true,"nice":false,"range":[308,15]},"axis":null}}},
 {"width":358,"height":308,"data":{"values":[]},"mark":"point","view":{"fill":null,"stroke":null}},

 {"width":358,"height":308,"layer":[
  {"data":{"name":"obs"},"mark":"point","encoding":{"x":{"field":"X1","type":"quantitative","scale":{"domain":[-228,927],"nice":false,"zero":false},"axis":{"title":"X1","values":[0,500],"format":"d"}},"y":{"field":"Y","type":"quantitative","scale":{"domain":[-183,247],"nice":false,"zero":false},"axis":{"title":"Y","values":[0,200],"format":"d"}}}},
  {"data":{"name":"fit"},"transform":[{"filter":"datum.p==='X1_Y'"}],"mark":"area","encoding":{"x":{"field":"x","type":"quantitative"},"y":{"field":"lo","type":"quantitative"},"y2":{"field":"hi"}}},
  {"data":{"name":"fit"},"transform":[{"filter":"datum.p==='X1_Y'"}],"mark":"line","encoding":{"x":{"field":"x","type":"quantitative"},"y":{"field":"m","type":"quantitative"}}}
 ]},
 {"width":358,"height":308,"layer":[
  {"data":{"name":"obs"},"mark":"point","encoding":{"x":{"field":"X2","type":"quantitative","scale":{"domain":[25,1030],"nice":false,"zero":false},"axis":{"title":"X2","values":[500,1000],"format":"d"}},"y":{"field":"Y","type":"quantitative","scale":{"domain":[-183,247],"nice":false,"zero":false},"axis":{"title":null,"labels":false,"values":[0,200],"minExtent":0,"maxExtent":0}}}},
  {"data":{"name":"fit"},"transform":[{"filter":"datum.p==='X2_Y'"}],"mark":"area","encoding":{"x":{"field":"x","type":"quantitative"},"y":{"field":"lo","type":"quantitative"},"y2":{"field":"hi"}}},
  {"data":{"name":"fit"},"transform":[{"filter":"datum.p==='X2_Y'"}],"mark":"line","encoding":{"x":{"field":"x","type":"quantitative"},"y":{"field":"m","type":"quantitative"}}}
 ]},
 {"width":358,"height":308,"layer":[
  {"data":{"name":"obs"},"mark":"point","encoding":{"x":{"field":"X3","type":"quantitative","scale":{"domain":[-0.21,1.83],"nice":false,"zero":false},"axis":{"title":"X3","values":[0,1],"format":"d"}},"y":{"field":"Y","type":"quantitative","scale":{"domain":[-183,247],"nice":false,"zero":false},"axis":{"title":null,"labels":false,"values":[0,200],"minExtent":0,"maxExtent":0}}}},
  {"data":{"name":"fit"},"transform":[{"filter":"datum.p==='X3_Y'"}],"mark":"area","encoding":{"x":{"field":"x","type":"quantitative"},"y":{"field":"lo","type":"quantitative"},"y2":{"field":"hi"}}},
  {"data":{"name":"fit"},"transform":[{"filter":"datum.p==='X3_Y'"}],"mark":"line","encoding":{"x":{"field":"x","type":"quantitative"},"y":{"field":"m","type":"quantitative"}}}
 ]},
 {"width":358,"height":308,"layer":[
  {"data":{"name":"obs"},"mark":"point","encoding":{"x":{"field":"X4","type":"quantitative","scale":{"domain":[-770,4260],"nice":false,"zero":false},"axis":{"title":"X4","values":[0,2500],"format":"d"}},"y":{"field":"Y","type":"quantitative","scale":{"domain":[-183,247],"nice":false,"zero":false},"axis":{"title":null,"labels":false,"values":[0,200],"minExtent":0,"maxExtent":0}}}},
  {"data":{"name":"fit"},"transform":[{"filter":"datum.p==='X4_Y'"}],"mark":"area","encoding":{"x":{"field":"x","type":"quantitative"},"y":{"field":"lo","type":"quantitative"},"y2":{"field":"hi"}}},
  {"data":{"name":"fit"},"transform":[{"filter":"datum.p==='X4_Y'"}],"mark":"line","encoding":{"x":{"field":"x","type":"quantitative"},"y":{"field":"m","type":"quantitative"}}},
  {"data":{"values":[{"t":"−0.39*"}]},"mark":{"type":"text","align":"left","baseline":"alphabetic","font":"DejaVu Sans","fontSize":66,"color":"#000000"},"encoding":{"x":{"datum":-510},"y":{"datum":134},"text":{"field":"t"}}}
 ]},
 {"width":358,"height":308,"layer":[
  {"data":{"name":"obs"},"mark":"point","encoding":{"x":{"field":"X5","type":"quantitative","scale":{"domain":[14,341],"nice":false,"zero":false},"axis":{"title":"X5","values":[100,200,300],"format":"d"}},"y":{"field":"Y","type":"quantitative","scale":{"domain":[-183,247],"nice":false,"zero":false},"axis":{"title":null,"labels":false,"values":[0,200],"minExtent":0,"maxExtent":0}}}},
  {"data":{"name":"fit"},"transform":[{"filter":"datum.p==='X5_Y'"}],"mark":"area","encoding":{"x":{"field":"x","type":"quantitative"},"y":{"field":"lo","type":"quantitative"},"y2":{"field":"hi"}}},
  {"data":{"name":"fit"},"transform":[{"filter":"datum.p==='X5_Y'"}],"mark":"line","encoding":{"x":{"field":"x","type":"quantitative"},"y":{"field":"m","type":"quantitative"}}}
 ]},
 {"width":358,"height":308,"layer":[
  {"data":{"name":"obs"},"mark":"point","encoding":{"x":{"field":"X6","type":"quantitative","scale":{"domain":[-72,268],"nice":false,"zero":false},"axis":{"title":"X6","values":[0,200],"format":"d"}},"y":{"field":"Y","type":"quantitative","scale":{"domain":[-183,247],"nice":false,"zero":false},"axis":{"title":null,"labels":false,"values":[0,200],"minExtent":0,"maxExtent":0}}}},
  {"data":{"name":"fit"},"transform":[{"filter":"datum.p==='X6_Y'"}],"mark":"area","encoding":{"x":{"field":"x","type":"quantitative"},"y":{"field":"lo","type":"quantitative"},"y2":{"field":"hi"}}},
  {"data":{"name":"fit"},"transform":[{"filter":"datum.p==='X6_Y'"}],"mark":"line","encoding":{"x":{"field":"x","type":"quantitative"},"y":{"field":"m","type":"quantitative"}}},
  {"data":{"values":[{"t":"0.78**"}]},"mark":{"type":"text","align":"left","baseline":"alphabetic","font":"DejaVu Sans","fontSize":66,"color":"#000000"},"encoding":{"x":{"datum":-58},"y":{"datum":137},"text":{"field":"t"}}}
 ]},
 {"width":358,"height":308,"layer":[
  {"data":{"name":"obs"},"mark":"point","encoding":{"x":{"field":"X7","type":"quantitative","scale":{"domain":[-48,192],"nice":false,"zero":false},"axis":{"title":"X7","values":[0,100],"format":"d"}},"y":{"field":"Y","type":"quantitative","scale":{"domain":[-183,247],"nice":false,"zero":false},"axis":{"title":null,"labels":false,"values":[0,200],"minExtent":0,"maxExtent":0}}}},
  {"data":{"name":"fit"},"transform":[{"filter":"datum.p==='X7_Y'"}],"mark":"area","encoding":{"x":{"field":"x","type":"quantitative"},"y":{"field":"lo","type":"quantitative"},"y2":{"field":"hi"}}},
  {"data":{"name":"fit"},"transform":[{"filter":"datum.p==='X7_Y'"}],"mark":"line","encoding":{"x":{"field":"x","type":"quantitative"},"y":{"field":"m","type":"quantitative"}}},
  {"data":{"values":[{"t":"−0.56**"}]},"mark":{"type":"text","align":"left","baseline":"alphabetic","font":"DejaVu Sans","fontSize":66,"color":"#000000"},"encoding":{"x":{"datum":-39},"y":{"datum":139},"text":{"field":"t"}}}
 ]},
 {"width":358,"height":308,"data":{"name":"obs"},"transform":[{"density":"Y","bandwidth":23.5,"extent":[-139.5,165.5],"steps":200,"as":["v","d"]}],"mark":{"type":"area","color":"#4C72B0","opacity":1,"fillOpacity":0.25,"stroke":"#4C72B0","strokeWidth":3.5,"clip":false},"encoding":{"x":{"field":"v","type":"quantitative","scale":{"domain":[-160,178],"nice":false,"zero":false},"axis":{"title":"Y","values":[-100,0,100],"format":"d"}},"y":{"field":"d","type":"quantitative","scale":{"zero":true,"nice":false,"range":[308,15]},"axis":null}}}
]
}
